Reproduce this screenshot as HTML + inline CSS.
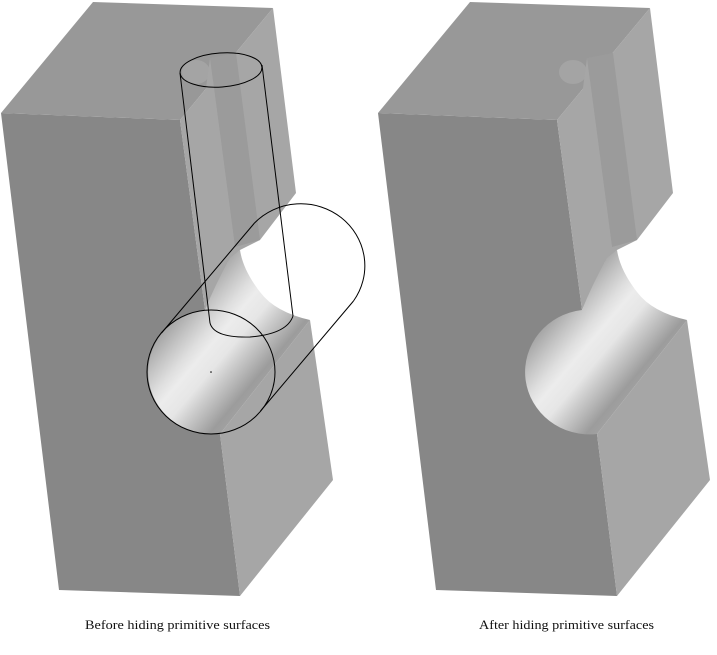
<!DOCTYPE html>
<html><head><meta charset="utf-8"><style>
html,body{margin:0;padding:0;background:#fff;}
svg{display:block;}
text{font-family:"Liberation Serif",serif;font-size:13px;fill:#111;}
</style></head><body>
<svg width="717" height="655" viewBox="0 0 717 655" xmlns="http://www.w3.org/2000/svg">
<defs>
<linearGradient id="g" gradientUnits="userSpaceOnUse" x1="150" y1="325" x2="250" y2="410">
<stop offset="0" stop-color="#959595"/>
<stop offset="0.12" stop-color="#a8a8a8"/>
<stop offset="0.24" stop-color="#c4c4c4"/>
<stop offset="0.36" stop-color="#dedede"/>
<stop offset="0.45" stop-color="#ececec"/>
<stop offset="0.58" stop-color="#e6e6e6"/>
<stop offset="0.68" stop-color="#cdcdcd"/>
<stop offset="0.78" stop-color="#b5b5b5"/>
<stop offset="0.88" stop-color="#9c9c9c"/>
<stop offset="1" stop-color="#a4a4a4"/>
</linearGradient>
<g id="blk">
  <!-- front face -->
  <polygon points="1,113 180,120 205,310 220,434 240,596 59,590" fill="#878787"/>
  <!-- top face -->
  <polygon points="1,113 93,2 273,8 180,120" fill="#989898"/>
  <!-- upper right face -->
  <polygon points="180,120 273,8 296,193 260,240 240,250 228,262 205,310" fill="#a6a6a6"/>
  <!-- slot strip -->
  <polygon points="210,58 236,53 260,240 235,247" fill="#9b9b9b"/>
  <!-- notch -->
  <ellipse cx="196" cy="72" rx="14" ry="12" fill="#a4a4a4"/>
  <polygon points="206,88 210,58 235,247 223,270" fill="#a6a6a6"/>
  <!-- lower right face -->
  <polygon points="220,434 310,320 333,480 240,596" fill="#a6a6a6"/>
  <!-- hole -->
  <path d="M205,310 A64,62 0 0 0 220,434 L310,320 Q275,312 260,292 Q243,270 240,250 L230,258 Q215,285 205,310 Z" fill="url(#g)"/>
</g>
</defs>
<use href="#blk"/>
<use href="#blk" x="377"/>
<!-- primitive outlines (left) -->
<g fill="none" stroke="#000" stroke-width="1">
  <ellipse cx="221" cy="70" rx="41" ry="17" transform="rotate(-4 221 70)"/>
  <line x1="180" y1="73" x2="210" y2="323"/>
  <line x1="262" y1="65" x2="293" y2="316"/>
  <path d="M210,323 Q214,338 250,337 Q287,334 293,316"/>
  <ellipse cx="211" cy="372" rx="64" ry="62"/>
  <line x1="161.5" y1="333" x2="254.5" y2="223"/>
  <line x1="260.5" y1="411" x2="353.5" y2="301"/>
  <path d="M254.5,223 A64,62 0 0 1 353.5,301"/>
</g>
<circle cx="211" cy="372" r="0.8" fill="#000"/>
<text x="85" y="629" textLength="185" lengthAdjust="spacingAndGlyphs">Before hiding primitive surfaces</text>
<text x="479" y="629" textLength="175" lengthAdjust="spacingAndGlyphs">After hiding primitive surfaces</text>
</svg>
</body></html>
